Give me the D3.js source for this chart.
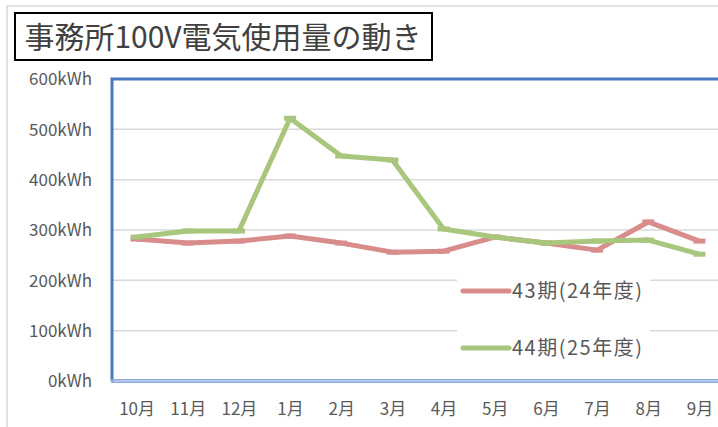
<!DOCTYPE html>
<html>
<head>
<meta charset="utf-8">
<script src="https://d3js.org/d3.v7.min.js"></script>
<style>
  body { margin: 0; background: #fff; }
  svg { display: block; overflow: hidden; }
  text { font-family: "Noto Sans CJK JP", "Noto Sans", sans-serif; }
</style>
</head>
<body>
<div id="chart"></div>
<script>
// months on the x axis
var months = ["10月", "11月", "12月", "1月", "2月", "3月", "4月", "5月", "6月", "7月", "8月", "9月"];
// kWh per month
var series43 = [282, 274, 278, 288, 274, 256, 258, 286, 274, 260, 316, 278];
var series44 = [286, 298, 298, 522, 447, 439, 302, 286, 274, 278, 280, 252];
var yTicks = [0, 100, 200, 300, 400, 500, 600];
var seriesNames = ["43期(24年度)", "44期(25年度)"];
var seriesColors = ["#d88d8b", "#a8c67c"];

var W = 718, H = 427;
var plotLeft = 111, plotTop = 79, plotRight = 725, plotBottom = 381;

var svg = d3.select("#chart")
  .append("svg")
  .attr("width", W)
  .attr("height", H);

// outer chart-area border
svg.append("rect")
  .attr("x", 7).attr("y", 6)
  .attr("width", 730).attr("height", 440)
  .attr("fill", "#fff")
  .attr("stroke", "#d9d9d9")
  .attr("stroke-width", 1.5);

var x = d3.scalePoint()
  .domain(months)
  .range([plotLeft, plotRight])
  .padding(0.5);

var y = d3.scaleLinear()
  .domain([0, 600])
  .range([plotBottom, plotTop]);

// gridlines
svg.append("g")
  .selectAll("line")
  .data(yTicks.filter(function (d) { return d > 0 && d < 600; }))
  .enter()
  .append("line")
  .attr("x1", plotLeft).attr("x2", W)
  .attr("y1", function (d) { return y(d); })
  .attr("y2", function (d) { return y(d); })
  .attr("stroke", "#d9d9d9")
  .attr("stroke-width", 1.5);

// y axis labels
var yAxis = svg.append("g")
  .attr("transform", "translate(" + (plotLeft - 19) + ",0)")
  .call(d3.axisLeft(y).tickValues(yTicks).tickSize(0).tickFormat(function (d) { return d + "kWh"; }));
yAxis.select(".domain").remove();
yAxis.selectAll("text")
  .attr("fill", "#595959")
  .style("font-size", "17px")
  .attr("x", 0)
  .attr("dy", "0.35em");

// x axis labels
var xAxis = svg.append("g")
  .attr("transform", "translate(0," + (plotBottom + 19) + ")")
  .call(d3.axisBottom(x).tickSize(0));
xAxis.select(".domain").remove();
xAxis.selectAll("text")
  .attr("fill", "#595959")
  .style("font-size", "17px")
  .attr("y", 0)
  .attr("dy", "0.9em");

// plot frame (blue)
svg.append("path")
  .attr("d", "M" + (plotLeft + 1) + "," + plotBottom + "V" + plotTop + "H" + (W + 5))
  .attr("fill", "none")
  .attr("stroke", "#4a78c2")
  .attr("stroke-width", 3);
svg.append("line")
  .attr("x1", plotLeft).attr("x2", W)
  .attr("y1", plotBottom).attr("y2", plotBottom)
  .attr("stroke", "#8eaadb")
  .attr("stroke-width", 4);
svg.append("line")
  .attr("x1", plotLeft + 3).attr("x2", W)
  .attr("y1", plotBottom).attr("y2", plotBottom)
  .attr("stroke", "#dce6f4")
  .attr("stroke-width", 1);

// legend box sits over the gridlines
svg.append("rect")
  .attr("x", 457).attr("y", 262)
  .attr("width", 193).attr("height", 104)
  .attr("fill", "#fff");

var line = d3.line()
  .x(function (d, i) { return x(months[i]); })
  .y(function (d) { return y(d); });

[series43, series44].forEach(function (s, k) {
  svg.append("path")
    .datum(s)
    .attr("d", line)
    .attr("fill", "none")
    .attr("stroke", seriesColors[k])
    .attr("stroke-width", 5)
    .attr("stroke-linejoin", "round");

  // dash markers
  svg.append("g")
    .selectAll("line")
    .data(s)
    .enter()
    .append("line")
    .attr("x1", function (d, i) { return x(months[i]) - 6; })
    .attr("x2", function (d, i) { return x(months[i]) + 6; })
    .attr("y1", function (d) { return y(d); })
    .attr("y2", function (d) { return y(d); })
    .attr("stroke", seriesColors[k])
    .attr("stroke-width", 5);
});

// legend
var legend = svg.append("g");
seriesNames.forEach(function (name, k) {
  var ly = 291 + k * 57;
  legend.append("line")
    .attr("x1", 463).attr("x2", 509)
    .attr("y1", ly).attr("y2", ly)
    .attr("stroke", seriesColors[k])
    .attr("stroke-width", 5)
    .attr("stroke-linecap", "round");
  legend.append("text")
    .attr("x", 512).attr("y", ly)
    .attr("dy", "0.36em")
    .attr("fill", "#595959")
    .style("font-size", "20px")
    .style("letter-spacing", "1.5px")
    .text(name);
});

// title box
svg.append("rect")
  .attr("x", 15).attr("y", 13)
  .attr("width", 417).attr("height", 47)
  .attr("fill", "#fff")
  .attr("stroke", "#000")
  .attr("stroke-width", 2);
svg.append("text")
  .attr("x", 223).attr("y", 37)
  .attr("text-anchor", "middle")
  .attr("dy", "0.36em")
  .attr("fill", "#404040")
  .style("font-size", "30px")
  .text("事務所100V電気使用量の動き");
</script>
</body>
</html>
